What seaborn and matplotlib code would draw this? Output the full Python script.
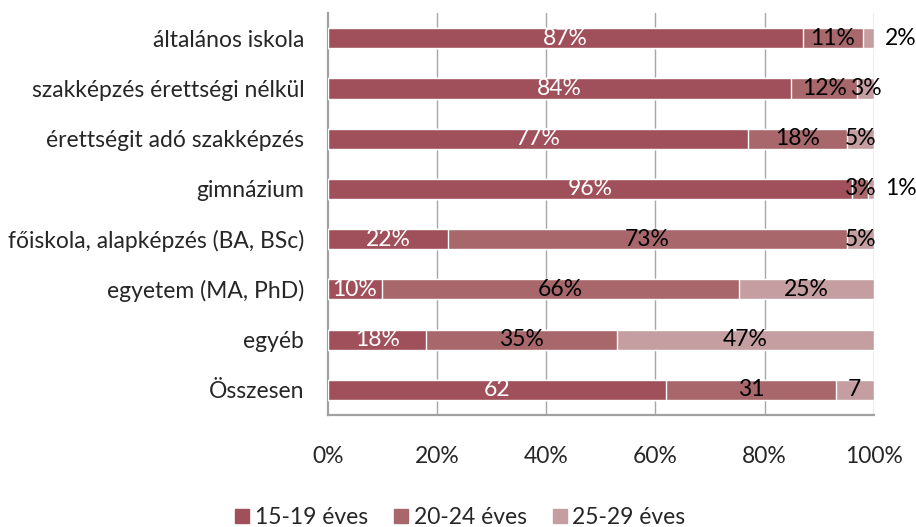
import numpy as np
import pandas as pd
import matplotlib
matplotlib.use("Agg")
import matplotlib.pyplot as plt
import seaborn as sns
from matplotlib.lines import Line2D

# categories (top to bottom) and the three age groups
categories = ["általános iskola", "szakképzés érettségi nélkül", "érettségit adó szakképzés",
              "gimnázium", "főiskola, alapképzés (BA, BSc)", "egyetem (MA, PhD)", "egyéb", "Összesen"]
series_names = ["15-19 éves", "20-24 éves", "25-29 éves"]
v1519 = [87, 84, 77, 96, 22, 10, 18, 62]
v2024 = [11, 12, 18, 3, 73, 66, 35, 31]
v2529 = [2, 3, 5, 1, 5, 25, 47, 7]
xticks = [0, 20, 40, 60, 80, 100]

colors = ["#A0505A", "#A8686B", "#C49EA1"]

sns.set_style("white")
plt.rcParams["font.family"] = ["Lato", "DejaVu Sans"]

df = pd.DataFrame({"cat": categories, "a": v1519, "b": v2024, "c": v2529})
tot = df[["a", "b", "c"]].sum(axis=1)
pa = df["a"] / tot * 100
pb = df["b"] / tot * 100
pc = df["c"] / tot * 100
df["cum1"] = pa
df["cum2"] = pa + pb
df["cum3"] = pa + pb + pc

fig = plt.figure(figsize=(9.16, 5.27), dpi=100)
ax = fig.add_axes([0.358, 0.2125, 0.596, 0.7625])

# stacked by drawing cumulative totals back to front
for col, c in zip(["cum3", "cum2", "cum1"], colors[::-1]):
    sns.barplot(data=df, y="cat", x=col, color=c, orient="h", width=0.4,
                saturation=1, ax=ax, zorder=3)

fs = 16.5
for i in range(len(categories)):
    lefts = [0, pa[i], pa[i] + pb[i]]
    widths = [pa[i], pb[i], pc[i]]
    raw = [v1519[i], v2024[i], v2529[i]]
    for j in range(3):
        txt = f"{raw[j]}" if categories[i] == "Összesen" else f"{raw[j]}%"
        tc = "white" if j == 0 else "black"
        if raw[j] <= 2 and categories[i] != "Összesen":
            ax.text(102, i, txt, ha="left", va="center", fontsize=fs, color="black",
                    clip_on=False, zorder=5)
        else:
            ax.text(lefts[j] + widths[j] / 2, i, txt, ha="center", va="center",
                    fontsize=fs, color=tc, zorder=5)

ax.set_xlim(0, 100)
ax.set_ylim(7.5, -0.5)
ax.set_xticks(xticks)
ax.set_xticklabels([f"{t}%" for t in xticks])
ax.set_xlabel("")
ax.set_ylabel("")
ax.tick_params(axis="x", length=0, pad=22, labelsize=fs)
ax.tick_params(axis="y", length=0, pad=17, labelsize=fs)
for t in xticks[1:]:
    ax.axvline(t, color="#A6A6A6", lw=1, zorder=1)
for s in ["top", "right"]:
    ax.spines[s].set_visible(False)
for s in ["left", "bottom"]:
    ax.spines[s].set_color("#A0A0A0")
    ax.spines[s].set_linewidth(1.6)

handles = [Line2D([], [], marker="s", ls="", color=c, markersize=10) for c in colors]
fig.legend(handles, series_names, loc="center", bbox_to_anchor=(0.502, 0.018), ncol=3,
           frameon=False, fontsize=fs, handlelength=0.7, handletextpad=0.2, columnspacing=1.1)

fig.savefig("out.png", dpi=100)
